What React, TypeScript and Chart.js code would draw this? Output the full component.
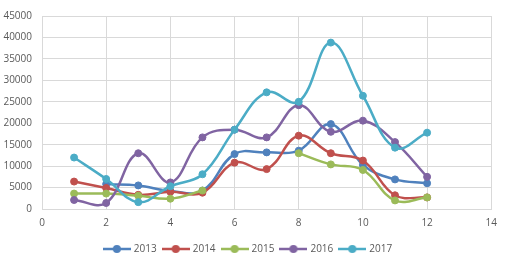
import React, { useEffect, useRef } from "react";
import { Chart, registerables } from "chart.js";

Chart.register(...registerables);

const xValues = [1, 2, 3, 4, 5, 6, 7, 8, 9, 10, 11, 12];
const seriesNames = ["2013", "2014", "2015", "2016", "2017"];
const s2013 = [null, 5800, 5500, 4200, 4300, 12800, 13200, 13600, 19800, 10300, 6900, 6000];
const s2014 = [6400, 4900, 3300, 4000, 3800, 10800, 9300, 17100, 13000, 11300, 3200, 2700];
const s2015 = [3600, 3600, 3100, 2400, 4300, null, null, 13000, 10400, 9100, 2000, 2700];
const s2016 = [2100, 1400, 13000, 6200, 16700, 18500, 16700, 24200, 18000, 20600, 15600, 7500];
const s2017 = [12000, 7000, 1600, 5300, 8100, 18500, 27200, 25000, 38800, 26400, 14300, 17800];
const colors = ["#4F81BD", "#C0504D", "#9BBB59", "#8064A2", "#4BACC6"];

function legendImage(color: string) {
  const c = document.createElement("canvas");
  c.width = 28;
  c.height = 10;
  const ctx = c.getContext("2d")!;
  ctx.strokeStyle = color;
  ctx.lineWidth = 2.5;
  ctx.beginPath();
  ctx.moveTo(0, 5);
  ctx.lineTo(28, 5);
  ctx.stroke();
  ctx.fillStyle = color;
  ctx.beginPath();
  ctx.arc(14, 5, 4, 0, Math.PI * 2);
  ctx.fill();
  return c;
}

export default function App() {
  const ref = useRef<HTMLCanvasElement>(null);
  useEffect(() => {
    const all = [s2013, s2014, s2015, s2016, s2017];
    const images = colors.map(legendImage);
    const chart = new Chart(ref.current!, {
      type: "line",
      data: {
        datasets: all.map((s, i) => ({
          label: seriesNames[i],
          data: xValues.map((x, j) => ({ x, y: s[j] })),
          borderColor: colors[i],
          backgroundColor: colors[i],
          pointBackgroundColor: colors[i],
          pointBorderColor: colors[i],
          pointRadius: 3.5,
          pointBorderWidth: 1,
          borderWidth: 2.5,
          tension: 0.4,
          spanGaps: false,
          order: 4 - i,
        })),
      },
      options: {
        responsive: false,
        animation: false,
        layout: { padding: { left: 0, right: 8, top: 5, bottom: -9 } },
        scales: {
          x: {
            type: "linear",
            min: 0,
            max: 14,
            ticks: { stepSize: 2, color: "#595959", padding: 8, font: { family: "Open Sans", size: 10 }, callback: (v: any) => String(v) },
            grid: { color: "#d9d9d9", drawTicks: false },
            border: { color: "#d9d9d9" },
            afterFit: (s: any) => { s.height = 28; },
          },
          y: {
            min: 0,
            max: 45000,
            ticks: { stepSize: 5000, color: "#595959", padding: 10, font: { family: "Open Sans", size: 10 }, callback: (v: any) => String(v) },
            grid: { color: "#d9d9d9", drawTicks: false },
            border: { color: "#d9d9d9" },
            afterFit: (s: any) => { s.width = 42; },
          },
        },
        plugins: {
          tooltip: { enabled: false },
          legend: {
            position: "bottom",
            labels: {
              usePointStyle: true,
              pointStyleWidth: 24,
              padding: 7,
              color: "#595959",
              font: { family: "Open Sans", size: 10 },
              sort: (a: any, b: any) => a.datasetIndex - b.datasetIndex,
              generateLabels: (c: any) => {
                const items = Chart.defaults.plugins.legend.labels.generateLabels(c);
                return items.map((it: any) => ({ ...it, pointStyle: images[it.datasetIndex] }));
              },
            },
          },
        },
      },
    } as any);
    return () => chart.destroy();
  }, []);
  return (
    <div style={{ position: "fixed", left: 0, top: 0 }}>
      <canvas ref={ref} width={505} height={255} />
    </div>
  );
}
